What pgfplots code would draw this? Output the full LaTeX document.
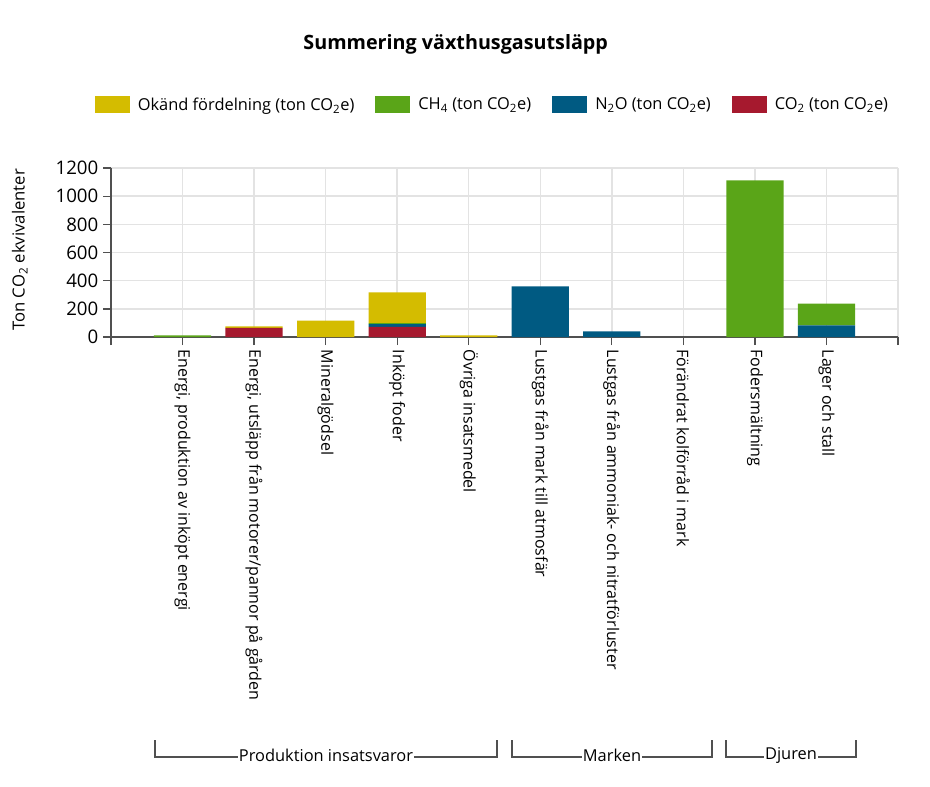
\documentclass[border=0pt]{standalone}
\usepackage{pgfplots}
\pgfplotsset{compat=1.18}
\usepackage{fontspec}
\setmainfont{Open Sans}

\definecolor{unk}{HTML}{D4BC00}
\definecolor{ch4}{HTML}{5AA518}
\definecolor{ntwoo}{HTML}{005A82}
\definecolor{co2}{HTML}{A6192E}
\definecolor{gridc}{HTML}{E3E3E3}
\definecolor{axc}{HTML}{505050}

% x  co2  n2o  ch4  okand
\pgfplotstableread{
x co2 n2o ch4 unk
0 0 0 12 0
1 64 0 0 11
2 0 0 0 116
3 72 20 6 219
4 0 0 0 12
5 0 360 0 0
6 0 40 0 0
7 0 0 0 0
8 0 0 1112 0
9 0 82 155 0
}\data

\begin{document}
\begin{tikzpicture}
% canvas: 1 px of the reference = 0.75pt, origin top left
\useasboundingbox (0pt,0pt) rectangle (697.5pt,-590.25pt);
\begin{axis}[
    at={(83.25pt,-252.75pt)}, anchor=south west,
    scale only axis,
    width=590.25pt, height=126.75pt,
    ybar stacked, bar width=0.8,
    xmin=-1, xmax=10, ymin=0, ymax=1200,
    xtick={-1,0,...,10},
    xticklabels={,
      {Energi, produktion av inköpt energi},
      {Energi, utsläpp från motorer/pannor på gården},
      Mineralgödsel, Inköpt foder, Övriga insatsmedel,
      Lustgas från mark till atmosfär,
      Lustgas från ammoniak- och nitratförluster,
      Förändrat kolförråd i mark, Fodersmältning, Lager och stall,},
    ytick={0,200,...,1200},
    axis x line*=bottom, axis y line*=left,
    axis line style={axc, line width=1.1pt, -},
    tick style={axc, line width=1pt},
    tick align=outside, major tick length=6pt,
    grid=major, major grid style={gridc, line width=1.1pt},
    xticklabel style={rotate=-90, anchor=west, font=\fontsize{12}{14}\selectfont},
    yticklabel style={font=\fontsize{14}{16}\selectfont},
    /pgf/number format/assume math mode=true,
    /pgf/number format/1000 sep={},
    ylabel={Ton CO\textsubscript{2} ekvivalenter},
    every axis y label/.style={at={(axis description cs:-0.116,0.515)}, rotate=90, anchor=center, font=\fontsize{12.5}{14}\selectfont},
    title={\textbf{Summering växthusgasutsläpp}},
    every axis title/.style={at={(axis description cs:0.438,1.734)}, anchor=center, font=\fontsize{14.8}{17}\selectfont},
    legend columns=-1, reverse legend,
    legend style={at={(axis description cs:-0.026,1.373)}, anchor=west, draw=none,
      font=\fontsize{12.3}{14}\selectfont,
      nodes={inner sep=0pt},
      /tikz/every odd column/.append style={column sep=6pt},
      /tikz/every even column/.append style={column sep=15.75pt}},
    legend image code/.code={\fill[#1] (0pt,-6.4pt) rectangle (26.25pt,6.4pt);},
  ]
\addplot[fill=co2, draw=none] table[x=x, y=co2] {\data};
\addplot[fill=ntwoo, draw=none] table[x=x, y=n2o] {\data};
\addplot[fill=ch4, draw=none] table[x=x, y=ch4] {\data};
\addplot[fill=unk, draw=none] table[x=x, y=unk] {\data};
\legend{CO\textsubscript{2} (ton CO\textsubscript{2}e), N\textsubscript{2}O (ton CO\textsubscript{2}e), CH\textsubscript{4} (ton CO\textsubscript{2}e), Okänd fördelning (ton CO\textsubscript{2}e)}
\end{axis}
% group brackets below the category labels
\begin{scope}[axc, line width=0.9pt, every node/.style={fill=white, inner sep=1pt, font=\fontsize{12.3}{14}\selectfont}]
\draw (116.25pt,-555pt) -- (116.25pt,-567.75pt) -- (372.75pt,-567.75pt) -- (372.75pt,-555pt);
\node[text=black] at (244.5pt,-566.5pt) {Produktion insatsvaror};
\draw (384pt,-555pt) -- (384pt,-567.75pt) -- (534pt,-567.75pt) -- (534pt,-555pt);
\node[text=black] at (459pt,-566.5pt) {Marken};
\draw (544.5pt,-555pt) -- (544.5pt,-567.75pt) -- (642pt,-567.75pt) -- (642pt,-555pt);
\node[text=black] at (593.25pt,-566.5pt) {Djuren};
\end{scope}
\end{tikzpicture}
\end{document}
